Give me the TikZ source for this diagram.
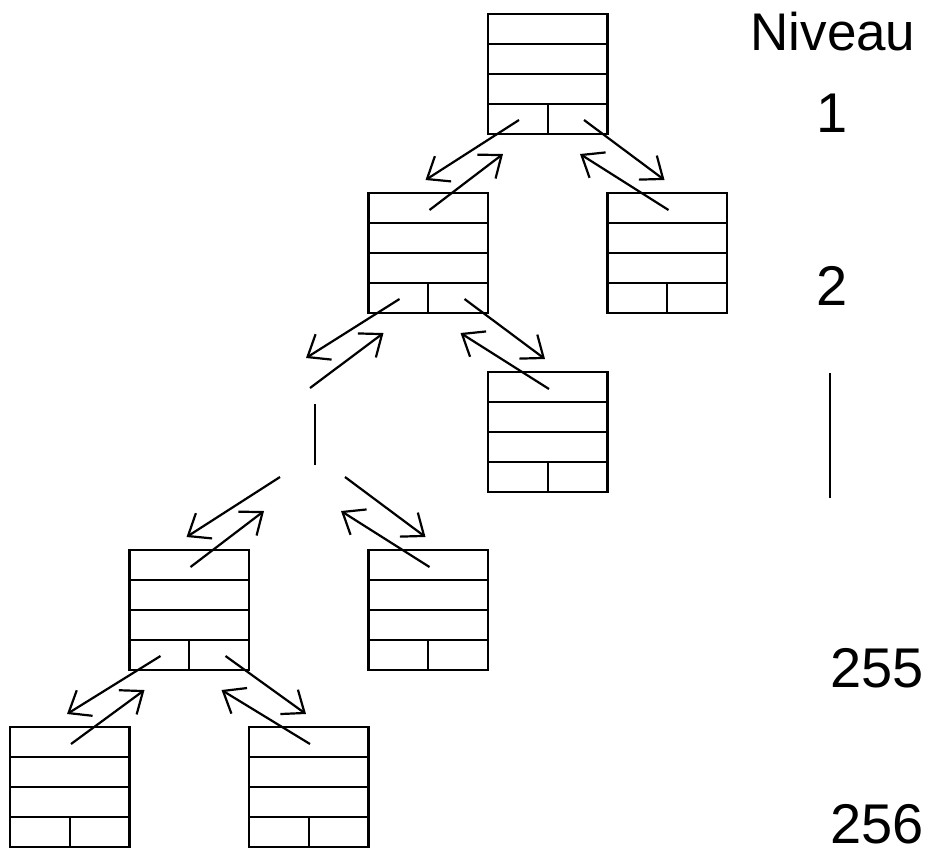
\documentclass[tikz,border=0pt]{standalone}
\usepackage{fontspec}
\setmainfont{Liberation Sans}
\usetikzlibrary{calc,arrows.meta}

% anchor points of one bucket: the two pointer cells, the entry point,
% where an incoming pointer stops, and where the back pointers stop
\newcommand\slots[1]{%
  \coordinate (#1-pl) at ($(#1.south west)+(31,-14)$);
  \coordinate (#1-pr) at ($(#1.south west)+(96,-14)$);
  \coordinate (#1-in) at ($(#1.north west)+(61,17)$);
  \coordinate (#1-top) at ($(#1.north west)+(57,-13)$);
  \coordinate (#1-bl) at ($(#1.south west)+(15,20)$);
  \coordinate (#1-br) at ($(#1.south west)+(92,20)$);
}
% a bucket: three records and a row with two pointers
\newcommand\bucket[2]{%
  \node[bucketbox] (#1) at (#2) {};
  \foreach \r in {30,60,90}
    \draw ($(#1.north west)+(0,\r)$) -- ($(#1.north east)+(0,\r)$);
  \draw ($(#1.south)+(0,-30)$) -- (#1.south);
  \slots{#1}
}
% pointer to a child and back
\newcommand\link[3]{%
  \draw[ptr] (#1-p#2) -- (#3-top);
  \draw[ptr] (#3-in) -- (#1-b#2);
}

\begin{document}
\begin{tikzpicture}[x=1pt,y=-1pt,line width=2.2pt,
    bucketbox/.style={draw,rectangle,anchor=north west,inner sep=0pt,
      outer sep=0pt,minimum width=119.5pt,minimum height=120pt},
    gapbox/.style={bucketbox,draw=none},
    ptr/.style={-{Straight Barb[length=19pt,width=30pt]}},
    level/.style={anchor=base,inner sep=0pt,font=\fontsize{56}{60}\selectfont}]
  \useasboundingbox (0,0) rectangle (928,855);

  \bucket{root}{488,14}
  \bucket{lva}{368.5,193}
  \bucket{lvb}{607.5,193}
  \bucket{lvc}{488,372}
  \node[gapbox] (gap) at (249,371) {};
  \slots{gap}
  \bucket{lvd}{129.5,550}
  \bucket{lve}{368.5,550}
  \bucket{lvf}{10,727}
  \bucket{lvg}{249,727}

  \link{root}{l}{lva}
  \link{root}{r}{lvb}
  \link{lva}{l}{gap}
  \link{lva}{r}{lvc}
  \link{gap}{l}{lvd}
  \link{gap}{r}{lve}
  \link{lvd}{l}{lvf}
  \link{lvd}{r}{lvg}
  \draw ($(gap.north west)+(66,33)$) -- ++(0,61);

  % level numbers
  \node[level,font=\fontsize{53}{60}\selectfont] (niveau) at (833,50) {Niveau};
  \node[level] (lv1) at (832,132) {1};
  \node[level] (lv2) at (832,305) {2};
  \node[level] (lv255) at (877,687) {255};
  \node[level] (lv256) at (877,843) {256};
  \draw (830,373) -- (830,498);
\end{tikzpicture}
\end{document}
